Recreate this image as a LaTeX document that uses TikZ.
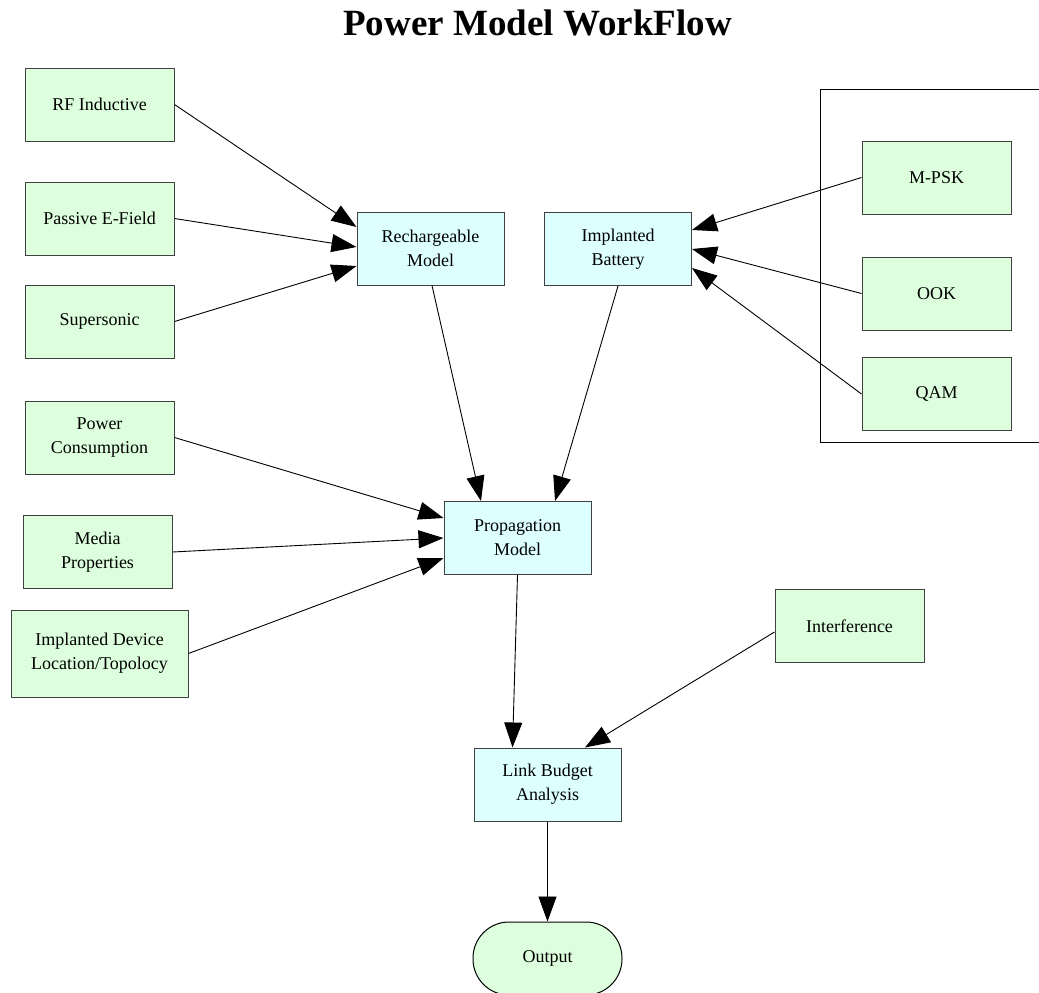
\documentclass[tikz,border=0pt]{standalone}
\usepackage{fontspec}
\setmainfont{Liberation Serif}
\usetikzlibrary{arrows.meta}
\definecolor{boxgreen}{RGB}{221,255,221}
\definecolor{boxcyan}{RGB}{221,255,255}
\definecolor{edgegray}{RGB}{64,64,64}
\begin{document}
\begin{tikzpicture}[x=1pt,y=1pt,
  every node/.style={font=\fontsize{18}{24}\selectfont, align=center, inner sep=0pt},
  inbox/.style={draw=edgegray, line width=1pt, fill=boxgreen, minimum width=149pt, minimum height=73pt},
  stagebox/.style={draw=edgegray, line width=1pt, fill=boxcyan, minimum width=147pt, minimum height=73pt},
  endbox/.style={draw=black, line width=1pt, fill=boxgreen, minimum width=149pt, minimum height=73pt, rounded corners=36pt},
  flow/.style={draw=black, line width=0.9pt, -{Triangle[length=25pt,width=18pt]}}
]
\useasboundingbox (0,0) rectangle (1039,-993);

% title
\node (title) at (537.5,-23) {\fontsize{37}{40}\selectfont\bfseries Power Model WorkFlow};

% modulation group frame (open to the right)
\draw[line width=1pt, black] (1045,-89) -- (820,-89) -- (820,-442) -- (1045,-442);

% power sources
\node[inbox] (rf)  at (99.5,-104.5) {RF Inductive};
\node[inbox] (pef) at (99.5,-218.5) {Passive E-Field};
\node[inbox] (sup) at (99.5,-321.5) {Supersonic};

% modulation schemes
\node[inbox] (mpsk) at (936.5,-177.5) {M-PSK};
\node[inbox] (ook)  at (936.5,-293.5) {OOK};
\node[inbox] (qam)  at (936.5,-394)   {QAM};

% power models
\node[stagebox] (rech) at (430.5,-248.5) {Rechargeable\\Model};
\node[stagebox] (bat)  at (618,-249)     {Implanted\\Battery};

% propagation inputs
\node[inbox] (pc)  at (99.5,-437.5) {Power\\Consumption};
\node[inbox] (mp)  at (97.5,-552)   {Media\\Properties};
\node[inbox, minimum width=177pt, minimum height=87pt] (idl) at (99.5,-653.5) {Implanted Device\\Location/Topolocy};

% analysis chain
\node[stagebox] (prop) at (517.5,-538)   {Propagation\\Model};
\node[inbox]    (intf) at (849.5,-626)   {Interference};
\node[stagebox] (link) at (547.5,-784.5) {Link Budget\\Analysis};
\node[endbox]   (out)  at (547.5,-958.5) {Output};

% edges into the rechargeable model
\draw[flow] (rf.east)  -- ([yshift=21.5pt]rech.west);
\draw[flow] (pef.east) -- ([yshift=1.5pt]rech.west);
\draw[flow] (sup.east) -- ([yshift=-17.5pt]rech.west);

% edges into the implanted battery
\draw[flow] (mpsk.west) -- ([yshift=19pt]bat.east);
\draw[flow] (ook.west)  -- (bat.east);
\draw[flow] (qam.west)  -- ([yshift=-19pt]bat.east);

% edges into the propagation model
\draw[flow] ([xshift=1.5pt]rech.south) -- ([xshift=-36.5pt]prop.north);
\draw[flow] (bat.south) -- ([xshift=37.5pt]prop.north);
\draw[flow] (pc.east)  -- ([yshift=20pt]prop.west);
\draw[flow] (mp.east)  -- (prop.west);
\draw[flow] (idl.east) -- ([yshift=-20pt]prop.west);

% link budget and output
\draw[flow] (prop.south) -- ([xshift=-35pt]link.north);
\draw[flow] ([yshift=-6pt]intf.west) -- ([xshift=37.5pt]link.north);
\draw[flow] (link.south) -- (out.north);
\end{tikzpicture}
\end{document}
